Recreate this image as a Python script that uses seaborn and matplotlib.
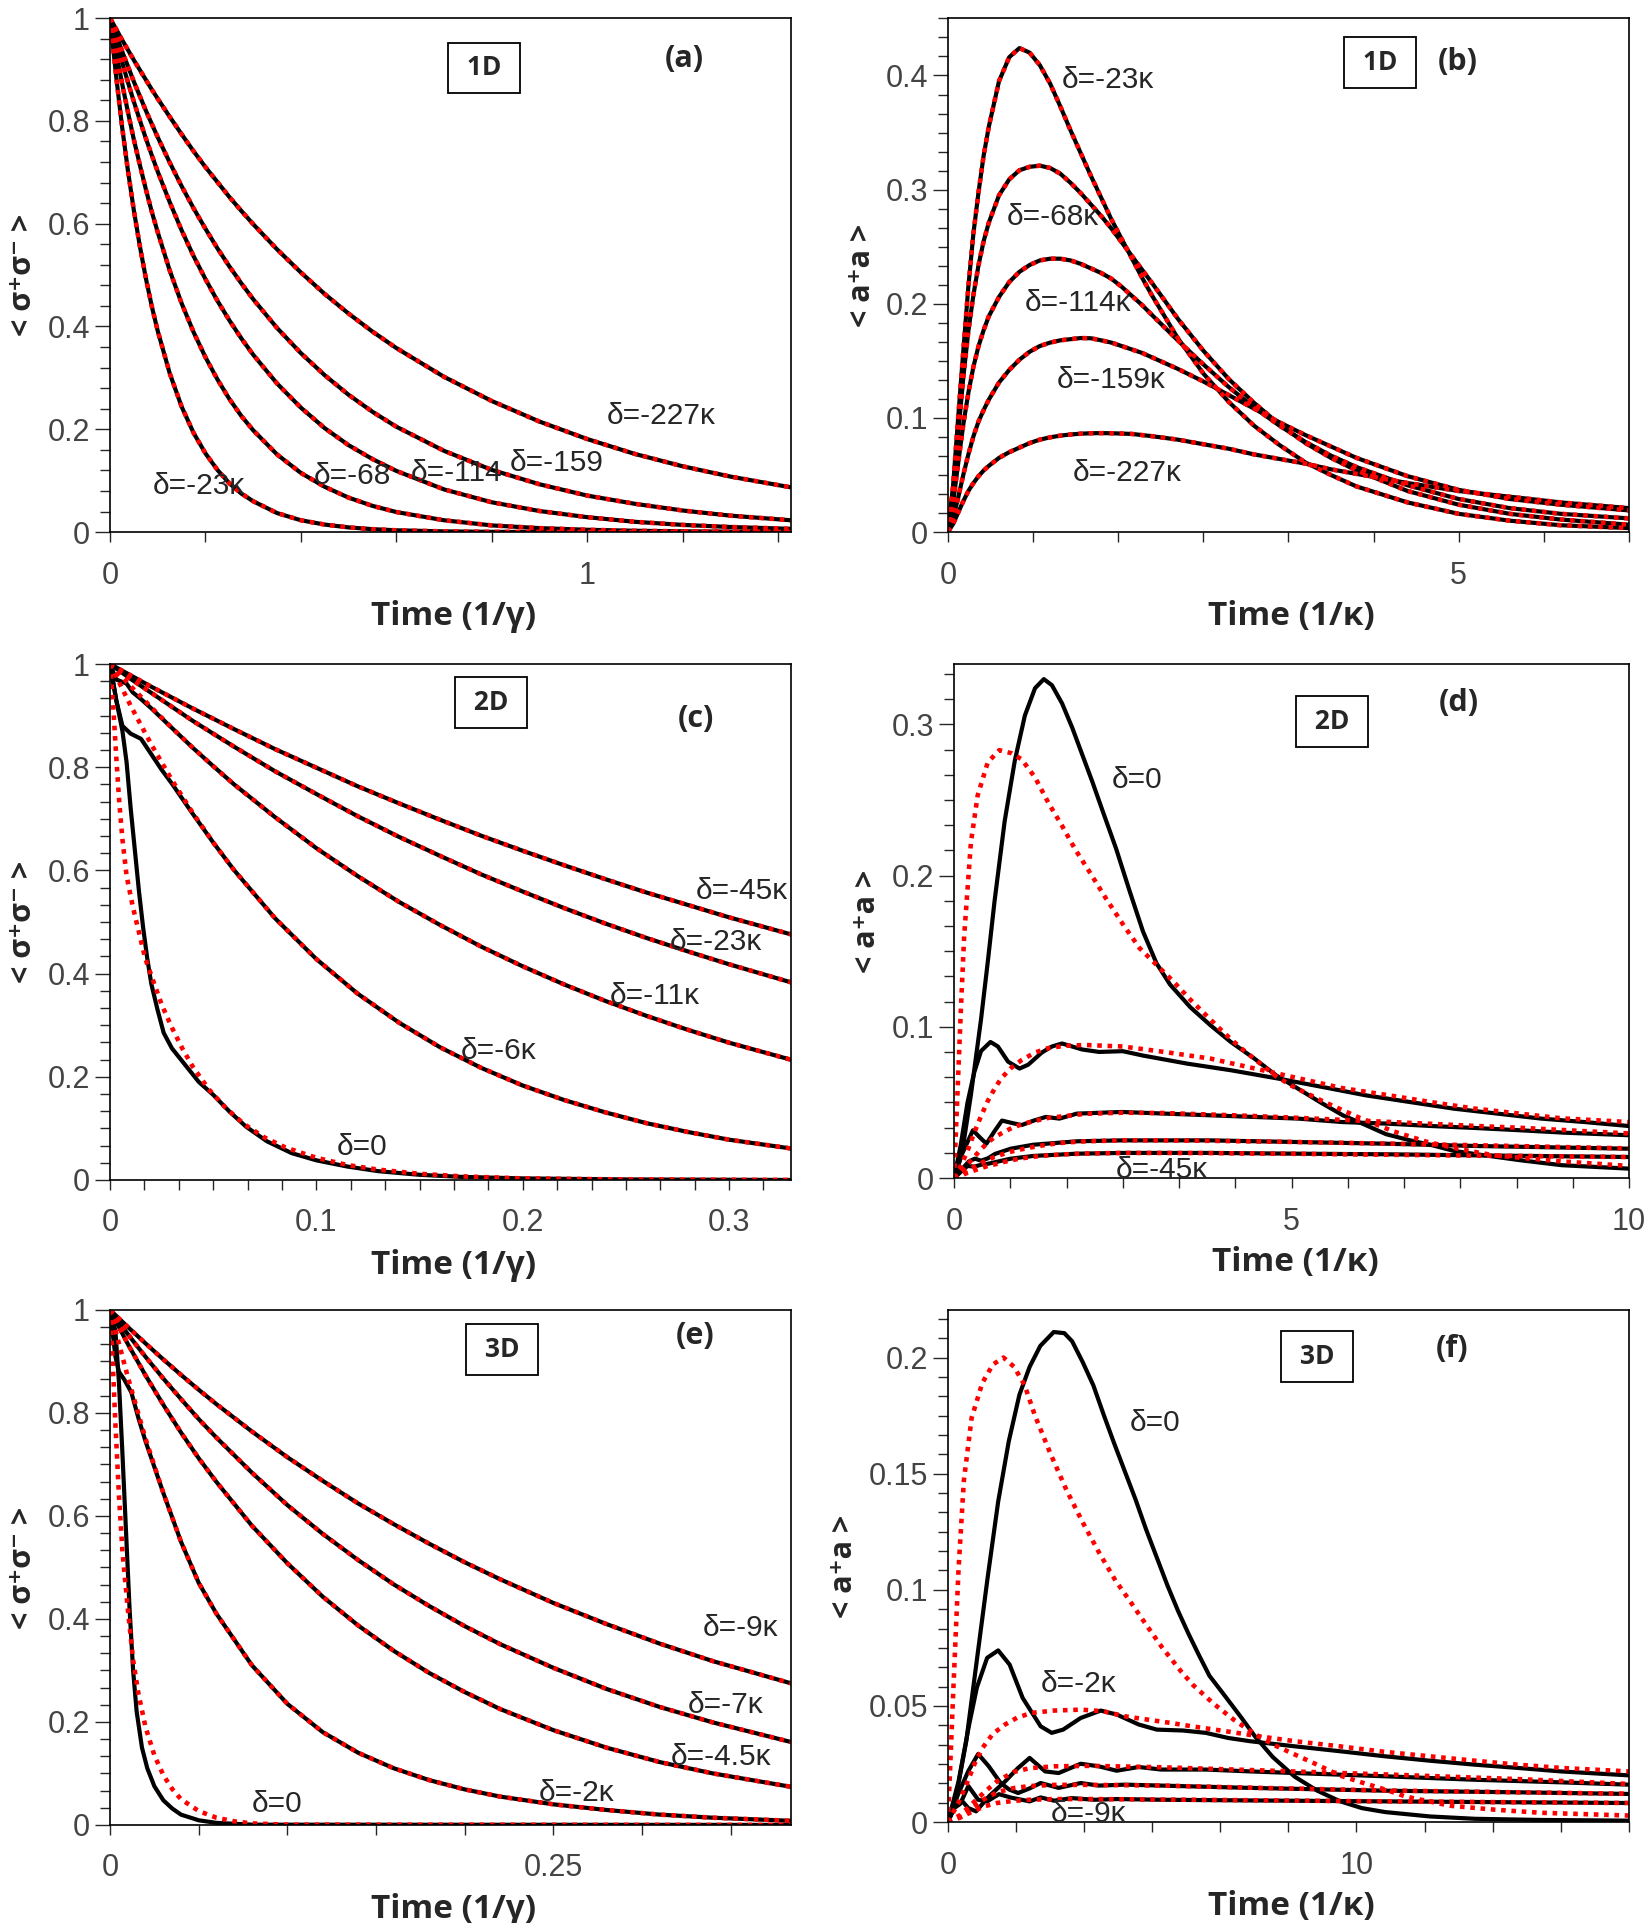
import matplotlib
matplotlib.use('Agg')
import matplotlib.pyplot as plt
import seaborn as sns
from matplotlib.ticker import MultipleLocator, FuncFormatter

# ---------------- panel (a): 1D, <s+s-> ----------------
A_T = [0, 0.0125, 0.025, 0.0375, 0.05, 0.0625, 0.075, 0.0875, 0.1, 0.125, 0.15, 0.175, 0.2, 0.225, 0.25, 0.275, 0.3,
       0.35, 0.4, 0.45, 0.5, 0.55, 0.6, 0.7, 0.8, 0.9, 1.0, 1.1, 1.2, 1.3, 1.427]
A_23 = [1, 0.889, 0.790, 0.703, 0.625, 0.556, 0.494, 0.439, 0.391, 0.309, 0.244, 0.193, 0.153, 0.121, 0.095, 0.075,
        0.060, 0.037, 0.023, 0.0146, 0.0091, 0.0057, 0.0035, 0.0014, 0.0005, 0.0002, 0.0001, 0, 0, 0, 0]
A_68 = [1, 0.935, 0.874, 0.817, 0.763, 0.714, 0.667, 0.623, 0.583, 0.509, 0.445, 0.389, 0.340, 0.297, 0.259, 0.226,
        0.198, 0.151, 0.115, 0.088, 0.067, 0.051, 0.039, 0.023, 0.013, 0.0077, 0.0045, 0.0026, 0.0015, 0.0009, 0.0004]
A_114 = [1, 0.957, 0.915, 0.875, 0.837, 0.801, 0.766, 0.733, 0.701, 0.642, 0.587, 0.537, 0.492, 0.450, 0.412, 0.377,
         0.345, 0.289, 0.242, 0.202, 0.169, 0.142, 0.119, 0.083, 0.058, 0.041, 0.029, 0.020, 0.014, 0.0099, 0.0063]
A_159 = [1, 0.968, 0.936, 0.906, 0.876, 0.848, 0.820, 0.794, 0.768, 0.719, 0.673, 0.630, 0.590, 0.552, 0.517, 0.484,
         0.453, 0.397, 0.348, 0.305, 0.267, 0.234, 0.205, 0.158, 0.121, 0.093, 0.071, 0.055, 0.042, 0.032, 0.023]
A_227 = [1, 0.979, 0.958, 0.938, 0.918, 0.899, 0.880, 0.861, 0.843, 0.808, 0.774, 0.741, 0.710, 0.681, 0.652, 0.625,
         0.599, 0.550, 0.505, 0.463, 0.425, 0.390, 0.358, 0.302, 0.255, 0.215, 0.181, 0.152, 0.128, 0.108, 0.087]

# ---------------- panel (b): 1D, <a+a> ----------------
B_T = [0, 0.05, 0.1, 0.15, 0.2, 0.25, 0.3, 0.35, 0.4, 0.5,
       0.6, 0.7, 0.8, 0.9, 1.0, 1.1, 1.2, 1.3, 1.4, 1.5,
       1.6, 1.7, 1.8, 1.9, 2.0, 2.25, 2.5, 2.75, 3.0, 3.25,
       3.5, 3.75, 4.0, 4.5, 5.0, 5.5, 6.0, 6.667]
B_23 = [0, 0.04, 0.10, 0.158, 0.215, 0.262, 0.298, 0.33, 0.355, 0.395,
        0.416, 0.424, 0.42, 0.409, 0.393, 0.373, 0.352, 0.332, 0.312, 0.293,
        0.274, 0.257, 0.24, 0.223, 0.207, 0.170, 0.139, 0.114, 0.093, 0.076,
        0.061, 0.05, 0.040, 0.026, 0.016, 0.010, 0.006, 0.0035]
B_68 = [0, 0.035, 0.085, 0.135, 0.176, 0.208, 0.234, 0.255, 0.271, 0.295,
        0.309, 0.317, 0.32, 0.321, 0.319, 0.314, 0.306, 0.297, 0.287, 0.277,
        0.266, 0.254, 0.242, 0.23, 0.218, 0.187, 0.159, 0.134, 0.113, 0.094,
        0.078, 0.065, 0.054, 0.036, 0.024, 0.016, 0.011, 0.0065]
B_114 = [0, 0.025, 0.06, 0.094, 0.122, 0.145, 0.163, 0.177, 0.189, 0.206,
         0.219, 0.228, 0.234, 0.238, 0.2395, 0.2395, 0.238, 0.235, 0.231, 0.227,
         0.222, 0.215, 0.207, 0.199, 0.19, 0.168, 0.147, 0.127, 0.109, 0.093,
         0.079, 0.067, 0.057, 0.041, 0.029, 0.021, 0.016, 0.012]
B_159 = [0, 0.012, 0.03, 0.05, 0.068, 0.084, 0.097, 0.107, 0.116, 0.131,
         0.142, 0.151, 0.158, 0.163, 0.166, 0.168, 0.169, 0.17, 0.1698, 0.168,
         0.166, 0.163, 0.16, 0.157, 0.153, 0.143, 0.132, 0.12, 0.108, 0.096,
         0.085, 0.075, 0.065, 0.049, 0.037, 0.029, 0.024, 0.019]
B_227 = [0, 0.007, 0.017, 0.027, 0.036, 0.043, 0.049, 0.054, 0.058, 0.065,
         0.07, 0.074, 0.078, 0.081, 0.083, 0.0845, 0.0855, 0.0862, 0.0866, 0.0867,
         0.0866, 0.0863, 0.086, 0.085, 0.084, 0.081, 0.077, 0.073, 0.068, 0.064,
         0.06, 0.055, 0.051, 0.043, 0.036, 0.031, 0.026, 0.021]

# ---------------- panel (c): 2D, <s+s-> ----------------
C_T = [0, 0.01, 0.02, 0.03, 0.04, 0.05, 0.06, 0.08, 0.1, 0.12, 0.14, 0.16, 0.18, 0.2, 0.22, 0.24, 0.26, 0.28, 0.3, 0.33]
C_45 = [1, 0.978, 0.956, 0.935, 0.914, 0.894, 0.874, 0.835, 0.799, 0.763, 0.730, 0.698, 0.667, 0.638, 0.610, 0.583, 0.557, 0.533, 0.509, 0.476]
C_23 = [1, 0.971, 0.944, 0.917, 0.890, 0.865, 0.840, 0.792, 0.748, 0.705, 0.665, 0.628, 0.592, 0.559, 0.527, 0.497, 0.469, 0.443, 0.418, 0.383]
C_11 = [1, 0.957, 0.916, 0.876, 0.838, 0.802, 0.767, 0.703, 0.643, 0.589, 0.539, 0.494, 0.452, 0.414, 0.379, 0.347, 0.318, 0.291, 0.266, 0.233]
C_6 = [1, 0.919, 0.844, 0.775, 0.712, 0.654, 0.601, 0.507, 0.428, 0.361, 0.305, 0.257, 0.217, 0.183, 0.155, 0.131, 0.110, 0.093, 0.078, 0.061]
C6_EARLY_T = [0, 0.003, 0.006, 0.01, 0.015, 0.02, 0.025, 0.03, 0.04]
C6_EARLY = [1, 0.93, 0.88, 0.865, 0.855, 0.825, 0.795, 0.768, 0.71]
C11_EARLY_T = [0, 0.003, 0.008, 0.011, 0.015, 0.02, 0.03, 0.04]
C11_EARLY = [1, 0.97, 0.962, 0.945, 0.932, 0.914, 0.876, 0.838]
C0_BLACK_T = [0, 0.003, 0.006, 0.008, 0.010, 0.012, 0.014, 0.016, 0.018, 0.020, 0.023, 0.026, 0.030, 0.034, 0.038,
              0.043, 0.05, 0.058, 0.066, 0.076, 0.088, 0.1, 0.115, 0.13, 0.15, 0.17, 0.2, 0.25, 0.33]
C0_BLACK = [1, 0.93, 0.87, 0.81, 0.72, 0.64, 0.56, 0.49, 0.43, 0.38, 0.33, 0.285, 0.255, 0.235, 0.215,
            0.19, 0.165, 0.132, 0.103, 0.075, 0.052, 0.038, 0.026, 0.017, 0.010, 0.006, 0.003, 0.001, 0.0]
C0_RED_T = [0, 0.0015, 0.003, 0.0045, 0.006, 0.008, 0.011, 0.014, 0.017, 0.021, 0.025, 0.03, 0.035, 0.04,
            0.048, 0.056, 0.065, 0.075, 0.085, 0.1, 0.115, 0.13, 0.15, 0.17, 0.2, 0.25, 0.33]
C0_RED = [1, 0.92, 0.82, 0.73, 0.66, 0.59, 0.53, 0.48, 0.43, 0.385, 0.34, 0.295, 0.255, 0.22,
          0.175, 0.14, 0.108, 0.082, 0.063, 0.043, 0.029, 0.02, 0.012, 0.007, 0.003, 0.001, 0.0]

# ---------------- panel (d): 2D, <a+a> ----------------
D0_BLACK_T = [0, 0.12, 0.25, 0.4, 0.5, 0.6, 0.75, 0.9, 1.05, 1.2, 1.33, 1.45, 1.6, 1.75, 1.9, 2.05, 2.2, 2.4, 2.6, 2.8,
              3.0, 3.2, 3.5, 3.8, 4.1, 4.45, 4.77, 5.1, 5.43, 5.76, 6.1, 6.4, 6.75, 7.1, 7.4, 7.7, 8.4, 9.0, 10.0]
D0_BLACK = [0, 0.017, 0.055, 0.105, 0.143, 0.183, 0.236, 0.276, 0.306, 0.324, 0.33, 0.326, 0.314, 0.298, 0.28, 0.262,
            0.243, 0.218, 0.19, 0.163, 0.142, 0.128, 0.113, 0.101, 0.09, 0.079, 0.068, 0.059, 0.05, 0.0415, 0.035,
            0.029, 0.025, 0.0215, 0.018, 0.016, 0.0117, 0.0085, 0.0062]
D0_RED_T = [0, 0.05, 0.1, 0.15, 0.25, 0.35, 0.5, 0.67, 0.85, 1.0, 1.2, 1.4, 1.6, 1.8, 2.0, 2.25, 2.5, 2.75, 3.0, 3.25,
            3.5, 3.75, 4.0, 4.25, 4.5, 4.75, 5.0, 5.5, 6.0, 6.5, 7.0, 7.5, 8.0, 9.0, 10.0]
D0_RED = [0, 0.055, 0.11, 0.16, 0.222, 0.253, 0.275, 0.283, 0.281, 0.277, 0.265, 0.248, 0.233, 0.217, 0.203, 0.185,
          0.168, 0.152, 0.141, 0.130, 0.118, 0.107, 0.096, 0.086, 0.077, 0.068, 0.061, 0.050, 0.040, 0.031, 0.024,
          0.019, 0.015, 0.011, 0.008]
D_T = [0, 0.1, 0.2, 0.3, 0.4, 0.5, 0.6, 0.7, 0.85, 1.0, 1.2, 1.4, 1.65, 1.95, 2.5, 3.1, 3.8, 4.45, 5.1, 5.75, 6.4, 7.1,
       7.7, 8.4, 9.0, 10.0]
DA_RED = [0, 0.008, 0.018, 0.03, 0.041, 0.051, 0.059, 0.066, 0.073, 0.078, 0.083, 0.086, 0.0875, 0.088, 0.087, 0.0835,
          0.079, 0.0725, 0.066, 0.0595, 0.055, 0.050, 0.046, 0.0425, 0.0395, 0.037]
DB_RED = [0, 0.004, 0.009, 0.014, 0.019, 0.0235, 0.027, 0.0295, 0.033, 0.0355, 0.0378, 0.0398, 0.041, 0.0425, 0.0432,
          0.043, 0.042, 0.041, 0.0398, 0.0385, 0.0372, 0.0358, 0.0345, 0.0332, 0.0318, 0.0295]
DC_RED = [0, 0.002, 0.005, 0.0075, 0.0098, 0.012, 0.014, 0.0155, 0.0175, 0.019, 0.0208, 0.0222, 0.0235, 0.0243, 0.0249,
          0.0249, 0.0246, 0.0242, 0.0238, 0.0233, 0.0228, 0.0222, 0.0217, 0.0211, 0.0205, 0.0196]
DD_RED = [0, 0.0015, 0.0035, 0.005, 0.0065, 0.008, 0.009, 0.0102, 0.0118, 0.013, 0.0142, 0.015, 0.0157, 0.0162, 0.0166,
          0.0166, 0.0165, 0.0162, 0.016, 0.0157, 0.0154, 0.0151, 0.0148, 0.0146, 0.0143, 0.0139]
DA_BLACK_T = [0, 0.1, 0.2, 0.3, 0.4, 0.54, 0.65, 0.8, 0.97, 1.1, 1.3, 1.45, 1.6, 1.75, 1.9, 2.15, 2.5, 2.8, 3.45, 4.1,
              4.8, 5.45, 6.1, 6.75, 7.4, 8.05, 8.7, 9.35, 10.0]
DA_BLACK = [0, 0.022, 0.05, 0.07, 0.084, 0.090, 0.087, 0.077, 0.0724, 0.075, 0.083, 0.087, 0.089, 0.087, 0.085, 0.0834,
            0.0839, 0.081, 0.0757, 0.0713, 0.0658, 0.0603, 0.0547, 0.0503, 0.0459, 0.0426, 0.0393, 0.037, 0.0344]
DB_BLACK_T = [0, 0.12, 0.28, 0.38, 0.48, 0.6, 0.71, 0.85, 1.0, 1.18, 1.36, 1.56, 1.82, 2.48, 3.13, 3.79, 4.45, 5.1,
              5.76, 6.41, 7.07, 7.72, 8.38, 9.04, 10.0]
DB_BLACK = [0, 0.016, 0.0316, 0.027, 0.0227, 0.031, 0.038, 0.0365, 0.035, 0.038, 0.0404, 0.0393, 0.0426, 0.0437,
            0.0426, 0.0415, 0.0404, 0.0393, 0.037, 0.036, 0.0344, 0.0331, 0.0316, 0.030, 0.0283]
DC_BLACK_T = [0, 0.12, 0.22, 0.31, 0.4, 0.5, 0.61, 0.84, 1.17, 1.82, 2.48, 3.79, 5.1, 6.41, 7.72, 10.0]
DC_BLACK = [0, 0.006, 0.011, 0.0128, 0.0115, 0.013, 0.016, 0.0194, 0.022, 0.0243, 0.0249, 0.0249, 0.0238, 0.0227,
            0.0212, 0.0194]
DD_BLACK_T = [0, 0.1, 0.2, 0.3, 0.4, 0.51, 0.84, 1.17, 1.82, 2.48, 3.79, 5.1, 6.41, 7.72, 10.0]
DD_BLACK = [0, 0.004, 0.008, 0.0075, 0.0088, 0.0095, 0.0128, 0.0146, 0.0161, 0.0166, 0.0166, 0.0161, 0.0157, 0.015,
            0.0139]

# ---------------- panel (e): 3D, <s+s-> ----------------
E_T = [0, 0.01, 0.02, 0.03, 0.04, 0.05, 0.06, 0.08, 0.1, 0.12, 0.14, 0.16, 0.18, 0.2, 0.22, 0.25, 0.28, 0.31, 0.34, 0.384]
E_9 = [1, 0.967, 0.935, 0.904, 0.874, 0.845, 0.817, 0.764, 0.714, 0.668, 0.624, 0.584, 0.546, 0.510, 0.477, 0.431, 0.390, 0.352, 0.318, 0.275]
E_7 = [1, 0.953, 0.909, 0.867, 0.827, 0.788, 0.752, 0.684, 0.621, 0.565, 0.514, 0.467, 0.425, 0.386, 0.351, 0.305, 0.264, 0.229, 0.199, 0.161]
E_45 = [1, 0.934, 0.873, 0.816, 0.762, 0.712, 0.666, 0.581, 0.508, 0.443, 0.387, 0.338, 0.295, 0.258, 0.225, 0.184, 0.150, 0.122, 0.100, 0.074]
E_2 = [1, 0.87, 0.75, 0.645, 0.55, 0.47, 0.41, 0.31, 0.235, 0.18, 0.14, 0.11, 0.087, 0.069, 0.055, 0.04, 0.029, 0.02, 0.014, 0.008]
E2_EARLY_T = [0, 0.003, 0.005, 0.008, 0.012, 0.016, 0.02, 0.03]
E2_EARLY = [1, 0.91, 0.88, 0.865, 0.84, 0.79, 0.745, 0.645]
E0_BLACK_T = [0, 0.003, 0.005, 0.007, 0.009, 0.011, 0.013, 0.015, 0.018, 0.021, 0.025, 0.03, 0.035, 0.04, 0.05, 0.06, 0.08, 0.384]
E0_BLACK = [1, 0.96, 0.86, 0.72, 0.57, 0.42, 0.3, 0.22, 0.15, 0.11, 0.075, 0.048, 0.032, 0.02, 0.009, 0.004, 0.0005, 0]
E0_RED_T = [0, 0.0015, 0.003, 0.005, 0.007, 0.01, 0.013, 0.016, 0.02, 0.025, 0.03, 0.035, 0.04, 0.05, 0.06, 0.07, 0.08, 0.1, 0.384]
E0_RED = [1, 0.90, 0.78, 0.64, 0.53, 0.42, 0.32, 0.255, 0.19, 0.135, 0.097, 0.07, 0.05, 0.027, 0.014, 0.007, 0.003, 0.0005, 0]

# ---------------- panel (f): 3D, <a+a> ----------------
F0_BLACK_T = [0, 0.19, 0.45, 0.71, 0.97, 1.23, 1.49, 1.75, 2.0, 2.26, 2.59, 2.85, 3.04, 3.3, 3.56, 3.82, 4.07, 4.33,
              4.59, 4.85, 5.11, 5.37, 5.63, 5.89, 6.14, 6.4, 6.75, 7.18, 7.51, 7.95, 8.49, 9.04, 9.59, 10.13, 10.7,
              11.8, 12.9, 14.5, 16.667]
F0_BLACK = [0, 0.01, 0.035, 0.07, 0.105, 0.138, 0.164, 0.184, 0.196, 0.205, 0.211, 0.2105, 0.207, 0.198, 0.188, 0.175,
            0.163, 0.151, 0.139, 0.126, 0.114, 0.102, 0.091, 0.081, 0.072, 0.063, 0.055, 0.045, 0.037, 0.028, 0.0195,
            0.0135, 0.009, 0.006, 0.0043, 0.0024, 0.0014, 0.0009, 0.0006]
F0_RED_T = [0, 0.13, 0.26, 0.39, 0.58, 0.84, 1.1, 1.36, 1.62, 1.88, 2.13, 2.5, 2.9, 3.3, 3.7, 4.1, 4.5, 4.85, 5.25,
            5.7, 6.0, 6.5, 7.0, 7.5, 8.0, 8.5, 9.0, 9.6, 10.1, 10.7, 11.2, 11.8, 12.3, 13.4, 14.5, 16.667]
F0_RED = [0, 0.056, 0.109, 0.147, 0.174, 0.189, 0.197, 0.2, 0.196, 0.188, 0.175, 0.159, 0.143, 0.129, 0.116, 0.104,
          0.094, 0.085, 0.075, 0.065, 0.059, 0.051, 0.044, 0.038, 0.033, 0.029, 0.025, 0.02, 0.0172, 0.014, 0.011,
          0.0088, 0.007, 0.0053, 0.004, 0.0028]
FA_BLACK_T = [0, 0.26, 0.52, 0.71, 0.96, 1.23, 1.51, 1.83, 2.27, 2.54, 2.82, 3.25, 3.74, 4.13, 4.67, 5.11, 5.76, 6.31,
              6.86, 7.4, 8.49, 9.59, 10.7, 11.8, 12.9, 13.95, 15.0, 16.667]
FA_BLACK = [0, 0.0175, 0.042, 0.058, 0.0707, 0.0739, 0.0678, 0.0534, 0.0412, 0.0384, 0.0398, 0.0448, 0.048, 0.0463,
            0.042, 0.0398, 0.0394, 0.0384, 0.0362, 0.0348, 0.0326, 0.0305, 0.0283, 0.0264, 0.0247, 0.0233, 0.0218, 0.0201]
FA_RED_T = [0, 0.25, 0.45, 0.65, 0.85, 1.1, 1.4, 1.7, 2.05, 2.6, 3.25, 3.8, 4.34, 4.89, 5.44, 5.98, 6.53, 7.07, 7.62,
            8.49, 9.59, 10.7, 11.8, 12.9, 13.95, 15.0, 16.667]
FA_RED = [0, 0.008, 0.016, 0.025, 0.032, 0.038, 0.042, 0.045, 0.047, 0.048, 0.0484, 0.0477, 0.0455, 0.0441, 0.0427,
          0.0412, 0.0398, 0.0384, 0.0369, 0.0348, 0.0326, 0.0302, 0.0283, 0.0264, 0.0247, 0.0233, 0.0218]
FB_BLACK_T = [0, 0.2, 0.35, 0.5, 0.69, 1.0, 1.4, 1.7, 2.0, 2.38, 2.71, 3.25, 3.69, 4.13, 4.67, 5.22, 6.31, 7.4, 8.49,
              10.7, 12.9, 15.0, 16.667]
FB_BLACK = [0, 0.008, 0.009, 0.006, 0.0046, 0.011, 0.0175, 0.023, 0.0276, 0.0218, 0.0211, 0.0251, 0.024, 0.0221,
            0.0237, 0.0226, 0.0226, 0.0218, 0.0211, 0.0197, 0.0182, 0.0171, 0.0161]
FC_BLACK_T = [0, 0.25, 0.5, 0.74, 1.0, 1.29, 1.5, 1.72, 2.0, 2.27, 2.71, 3.25, 3.69, 4.34, 5.22, 7.4, 10.7, 13.95, 16.667]
FC_BLACK = [0, 0.012, 0.022, 0.0293, 0.024, 0.0168, 0.014, 0.0125, 0.0145, 0.0168, 0.0147, 0.0168, 0.0157, 0.0161,
            0.0157, 0.0147, 0.0135, 0.0128, 0.0121]
FD_BLACK_T = [0, 0.15, 0.3, 0.5, 0.74, 0.96, 1.25, 1.55, 2.0, 2.27, 2.6, 3.03, 3.58, 4.13, 5.22, 7.4, 10.7, 13.95, 16.667]
FD_BLACK = [0, 0.006, 0.0078, 0.0155, 0.0096, 0.0089, 0.012, 0.0105, 0.0089, 0.0106, 0.0092, 0.0103, 0.0096, 0.0099,
            0.0096, 0.0093, 0.0089, 0.0085, 0.0082]
F_T = [0, 0.3, 0.6, 0.9, 1.2, 1.6, 2.0, 2.6, 3.5, 5.2, 7.4, 10.7, 13.95, 16.667]
FB_RED = [0, 0.003, 0.008, 0.013, 0.0175, 0.0215, 0.0232, 0.024, 0.0242, 0.0236, 0.0224, 0.0205, 0.0185, 0.0164]
FC_RED = [0, 0.002, 0.006, 0.010, 0.0128, 0.0146, 0.0155, 0.016, 0.016, 0.0157, 0.0148, 0.0136, 0.0128, 0.0122]
FD_RED = [0, 0.002, 0.0045, 0.0068, 0.0082, 0.0091, 0.0096, 0.0099, 0.0099, 0.0097, 0.0094, 0.0089, 0.0085, 0.0082]

# tick values
A_XTICKS = [0, 1]
B_XTICKS = [0, 5]
C_XTICKS = [0, 0.1, 0.2, 0.3]
D_XTICKS = [0, 5, 10]
E_XTICKS = [0, 0.25]
F_XTICKS = [0, 10]
S_YTICKS = [0, 0.2, 0.4, 0.6, 0.8, 1]
B_YTICKS = [0, 0.1, 0.2, 0.3, 0.4]
D_YTICKS = [0, 0.1, 0.2, 0.3]
F_YTICKS = [0, 0.05, 0.1, 0.15, 0.2]

sns.set_style('ticks')
plt.rcParams['font.family'] = ['Liberation Sans', 'DejaVu Sans']
plt.rcParams['axes.linewidth'] = 1.2
plt.rcParams['axes.edgecolor'] = 'black'
BOLD = ['Open Sans', 'DejaVu Sans']
TICKCOL = '#444444'


def black(ax, t, y):
    sns.lineplot(x=t, y=y, ax=ax, color='black', lw=3.0, estimator=None, sort=False)


def red(ax, t, y):
    sns.lineplot(x=t, y=y, ax=ax, color='#ff0000', lw=3.3, linestyle=(0, (1, 1.25)),
                 estimator=None, sort=False)


def setup(ax, xlim, ylim, xt, xminor, yt, yminor, xlabel, ylabel, ylx, box, bpos, letter, lpos):
    ax.set_xlim(*xlim)
    ax.set_ylim(*ylim)
    ax.set_xticks(xt)
    ax.set_yticks(yt)
    ax.xaxis.set_minor_locator(MultipleLocator(xminor))
    ax.yaxis.set_minor_locator(MultipleLocator(yminor))
    fmt = FuncFormatter(lambda v, p: '%g' % round(v, 4))
    ax.xaxis.set_major_formatter(fmt)
    ax.yaxis.set_major_formatter(fmt)
    ax.tick_params(axis='x', which='both', direction='out', length=7.5, width=1.0, pad=13,
                   labelsize=22, labelcolor=TICKCOL)
    ax.tick_params(axis='y', which='major', direction='out', length=10.5, width=1.0, pad=4,
                   labelsize=22, labelcolor=TICKCOL)
    ax.tick_params(axis='y', which='minor', direction='out', length=7, width=1.0)
    for s in ax.spines.values():
        s.set_visible(True)
        s.set_linewidth(1.2)
    ax.set_xlabel(xlabel, fontsize=24, fontweight='bold', family=BOLD)
    ax.set_ylabel(ylabel, fontsize=22, fontweight='bold', family=BOLD)
    ax.xaxis.set_label_coords(0.505, -0.165)
    ax.xaxis.label.set_va('center')
    ax.yaxis.set_label_coords(ylx, 0.5)
    ax.yaxis.label.set_va('center')
    ax.text(bpos[0], bpos[1], ' ' + box + ' ', transform=ax.transAxes, ha='center', va='center',
            fontsize=19, fontweight='bold', family=BOLD,
            bbox=dict(boxstyle='square,pad=0.45', fc='white', ec='black', lw=1.3))
    ax.text(lpos[0], lpos[1], letter, transform=ax.transAxes, ha='center', va='center',
            fontsize=22, fontweight='bold', family=BOLD)


def lab(ax, x, y, s):
    ax.text(x, y, s, fontsize=21.5, ha='left', va='center')


fig = plt.figure(figsize=(16.5, 19.23), dpi=100)
ax_a = fig.add_axes([0.0667, 0.7233, 0.4127, 0.2673])
ax_b = fig.add_axes([0.5745, 0.7233, 0.4127, 0.2673])
ax_c = fig.add_axes([0.0667, 0.3864, 0.4127, 0.2683])
ax_d = fig.add_axes([0.5782, 0.3874, 0.4091, 0.2673])
ax_e = fig.add_axes([0.0667, 0.0510, 0.4127, 0.2678])
ax_f = fig.add_axes([0.5745, 0.0525, 0.4127, 0.2663])

SIG = '< σ⁺σ⁻ >'
PHO = '< a⁺a >'

# (a)
for y in [A_23, A_68, A_114, A_159, A_227]:
    black(ax_a, A_T, y)
for y in [A_23, A_68, A_114, A_159, A_227]:
    red(ax_a, A_T, y)
setup(ax_a, (0, 1.427), (0, 1), A_XTICKS, 0.2, S_YTICKS, 0.04, 'Time (1/γ)', SIG, -0.128,
      '1D', (0.549, 0.903), '(a)', (0.843, 0.921))
lab(ax_a, 1.04, 0.225, 'δ=-227κ')
lab(ax_a, 0.837, 0.134, 'δ=-159')
lab(ax_a, 0.63, 0.114, 'δ=-114')
lab(ax_a, 0.426, 0.11, 'δ=-68')
lab(ax_a, 0.09, 0.09, 'δ=-23κ')

# (b)
for y in [B_23, B_68, B_114, B_159, B_227]:
    black(ax_b, B_T, y)
for y in [B_23, B_68, B_114, B_159, B_227]:
    red(ax_b, B_T, y)
setup(ax_b, (0, 6.667), (0, 0.4503), B_XTICKS, 5 / 6, B_YTICKS, 0.1 / 6, 'Time (1/κ)', PHO, -0.126,
      '1D', (0.634, 0.914), '(b)', (0.748, 0.914))
lab(ax_b, 1.11, 0.396, 'δ=-23κ')
lab(ax_b, 0.58, 0.276, 'δ=-68κ')
lab(ax_b, 0.75, 0.201, 'δ=-114κ')
lab(ax_b, 1.07, 0.1335, 'δ=-159κ')
lab(ax_b, 1.225, 0.0514, 'δ=-227κ')

# (c)
black(ax_c, C_T, C_45)
black(ax_c, C_T, C_23)
black(ax_c, C11_EARLY_T + C_T[5:], C11_EARLY + C_11[5:])
black(ax_c, C6_EARLY_T + C_T[5:], C6_EARLY + C_6[5:])
black(ax_c, C0_BLACK_T, C0_BLACK)
for y in [C_45, C_23, C_11, C_6]:
    red(ax_c, C_T, y)
red(ax_c, C0_RED_T, C0_RED)
setup(ax_c, (0, 0.33), (0, 1), C_XTICKS, 0.1 / 6, S_YTICKS, 0.2 / 6, 'Time (1/γ)', SIG, -0.128,
      '2D', (0.559, 0.926), '(c)', (0.861, 0.893))
lab(ax_c, 0.284, 0.56, 'δ=-45κ')
lab(ax_c, 0.271, 0.461, 'δ=-23κ')
lab(ax_c, 0.242, 0.357, 'δ=-11κ')
lab(ax_c, 0.17, 0.249, 'δ=-6κ')
lab(ax_c, 0.11, 0.063, 'δ=0')

# (d)
black(ax_d, D0_BLACK_T, D0_BLACK)
black(ax_d, DA_BLACK_T, DA_BLACK)
black(ax_d, DB_BLACK_T, DB_BLACK)
black(ax_d, DC_BLACK_T, DC_BLACK)
black(ax_d, DD_BLACK_T, DD_BLACK)
red(ax_d, D0_RED_T, D0_RED)
for y in [DA_RED, DB_RED, DC_RED, DD_RED]:
    red(ax_d, D_T, y)
setup(ax_d, (0, 10), (0, 0.34), D_XTICKS, 10 / 12, D_YTICKS, 0.1 / 6, 'Time (1/κ)', PHO, -0.129,
      '2D', (0.56, 0.888), '(d)', (0.748, 0.925))
lab(ax_d, 2.33, 0.263, 'δ=0')
lab(ax_d, 2.39, 0.0054, 'δ=-45κ')

# (e)
black(ax_e, E_T, E_9)
black(ax_e, E_T, E_7)
black(ax_e, E_T, E_45)
black(ax_e, E2_EARLY_T + E_T[4:], E2_EARLY + E_2[4:])
black(ax_e, E0_BLACK_T, E0_BLACK)
for y in [E_9, E_7, E_45, E_2]:
    red(ax_e, E_T, y)
red(ax_e, E0_RED_T, E0_RED)
setup(ax_e, (0, 0.384), (0, 1), E_XTICKS, 0.05, S_YTICKS, 0.2 / 6, 'Time (1/γ)', SIG, -0.128,
      '3D', (0.576, 0.923), '(e)', (0.859, 0.95))
lab(ax_e, 0.3345, 0.383, 'δ=-9κ')
lab(ax_e, 0.3257, 0.2325, 'δ=-7κ')
lab(ax_e, 0.316, 0.132, 'δ=-4.5κ')
lab(ax_e, 0.242, 0.062, 'δ=-2κ')
lab(ax_e, 0.08, 0.04, 'δ=0')

# (f)
black(ax_f, F0_BLACK_T, F0_BLACK)
black(ax_f, FA_BLACK_T, FA_BLACK)
black(ax_f, FB_BLACK_T, FB_BLACK)
black(ax_f, FC_BLACK_T, FC_BLACK)
black(ax_f, FD_BLACK_T, FD_BLACK)
red(ax_f, F0_RED_T, F0_RED)
red(ax_f, FA_RED_T, FA_RED)
for y in [FB_RED, FC_RED, FD_RED]:
    red(ax_f, F_T, y)
setup(ax_f, (0, 16.667), (0, 0.2205), F_XTICKS, 10 / 6, F_YTICKS, 0.05 / 6, 'Time (1/κ)', PHO, -0.152,
      '3D', (0.542, 0.909), '(f)', (0.74, 0.923))
lab(ax_f, 4.46, 0.172, 'δ=0')
lab(ax_f, 2.26, 0.0596, 'δ=-2κ')
lab(ax_f, 2.52, 0.0035, 'δ=-9κ')

fig.savefig('out.png', dpi=100, facecolor='white')
